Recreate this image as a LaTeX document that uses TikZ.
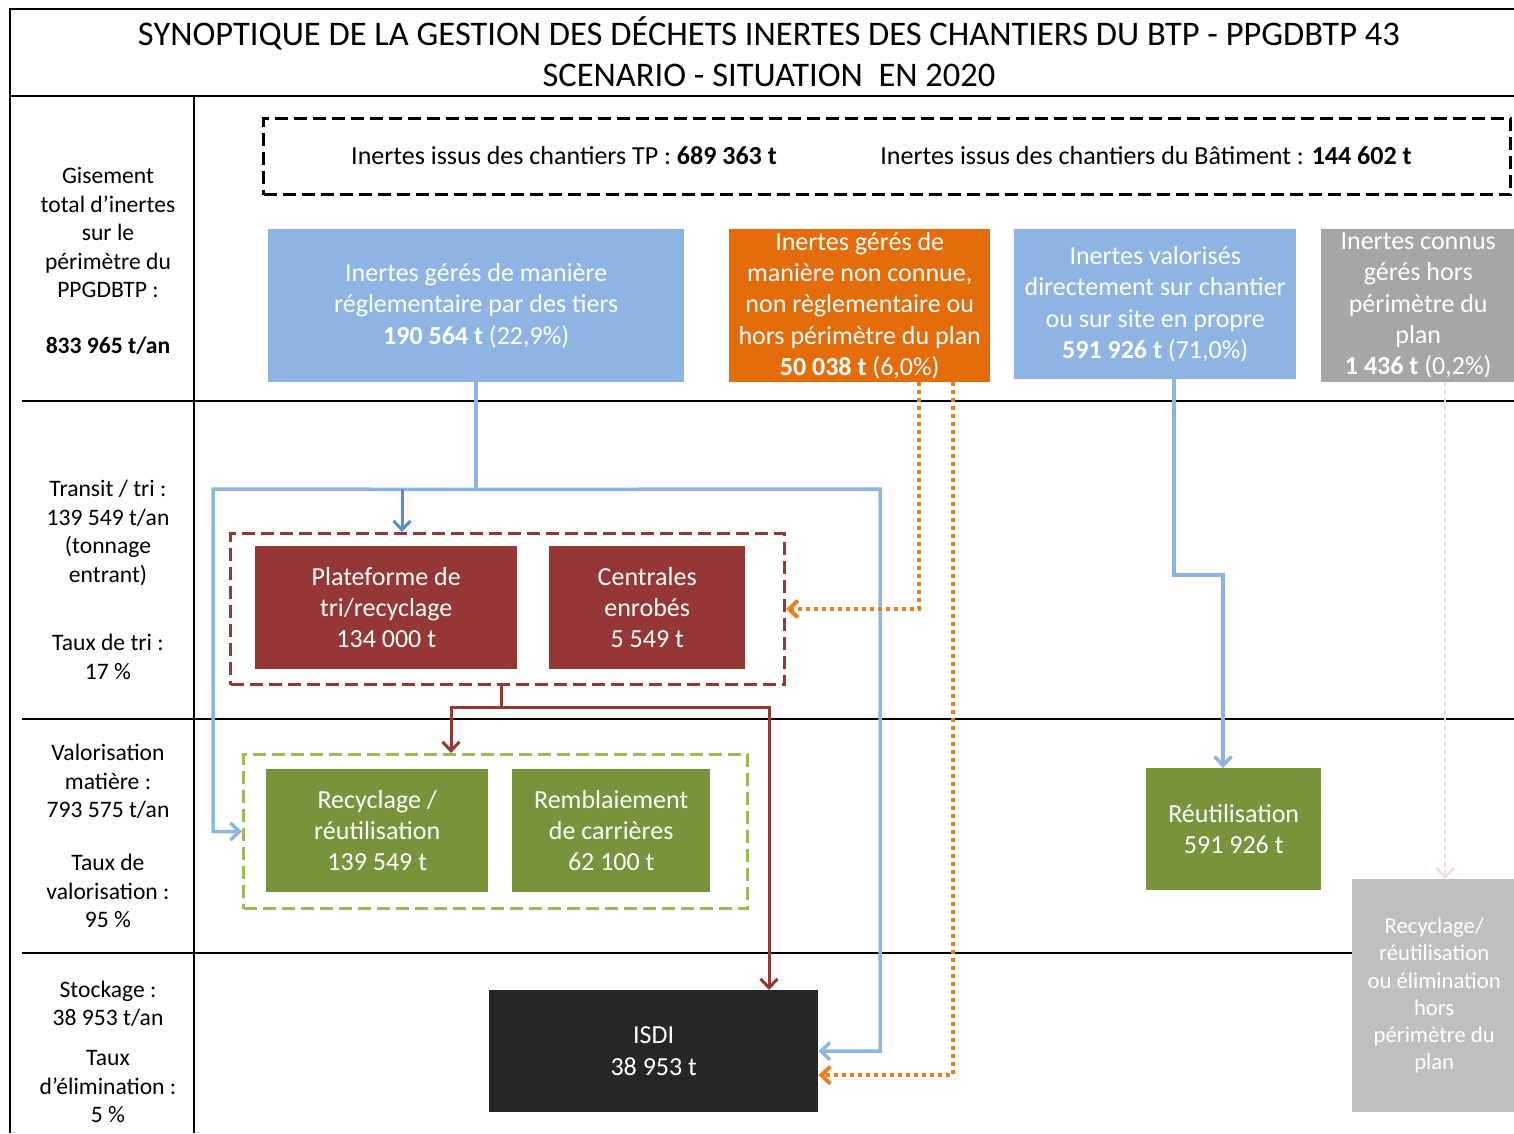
\documentclass[tikz,border=0pt]{standalone}
\usepackage{fontspec}
\setmainfont{Carlito}
\usetikzlibrary{arrows.meta}
\usetikzlibrary{positioning}
\usetikzlibrary{calc}

\definecolor{cielbleu}{HTML}{8EB4E3}
\definecolor{bleufonce}{HTML}{558ED5}
\definecolor{orangeplan}{HTML}{E46C0A}
\definecolor{orangeflux}{HTML}{F07D1A}
\definecolor{grisplan}{HTML}{A6A6A6}
\definecolor{grisclair}{HTML}{BFBFBF}
\definecolor{rougebrique}{HTML}{953735}
\definecolor{vertolive}{HTML}{77933C}
\definecolor{vertclair}{HTML}{9BBB59}
\definecolor{noirisdi}{HTML}{262626}
\definecolor{roseflux}{HTML}{F2DCDB}

\newcommand{\titrefont}{\fontsize{34.5}{41}\selectfont}
\newcommand{\boxfont}{\fontsize{26}{31.3}\selectfont}
\newcommand{\petitfont}{\fontsize{22.7}{27.2}\selectfont}
\newcommand{\labfont}{\fontsize{23.6}{28.5}\selectfont}

\begin{document}
\begin{tikzpicture}[x=1pt,y=-1pt,
    cadre/.style={line width=2.5pt,black},
    bloc/.style={rectangle,inner sep=0pt,anchor=north west,text=white,align=center,font=\boxfont},
    groupe/.style={rectangle,inner sep=0pt,anchor=north west,line width=3pt,dash pattern=on 13pt off 6pt},
    lab/.style={align=center,font=\labfont,inner sep=0pt},
    fleche/.style={-{Straight Barb[length=9pt,width=17pt]}},
    flotbleu/.style={line width=3.5pt,cielbleu},
    flotrouge/.style={line width=3pt,rougebrique},
    flotorange/.style={line width=4pt,orangeflux,dash pattern=on 4pt off 4pt}]
  \useasboundingbox (0,0) rectangle (1514,1133);

  % grille du tableau
  \draw[cadre] (10,1133) -- (10,9) -- (1514,9);
  \draw[cadre] (10,96) -- (1514,96);
  \draw[cadre] (194,96) -- (194,1133);
  \draw[cadre] (22,401) -- (1514,401);
  \draw[cadre] (22,719) -- (1514,719);
  \draw[cadre] (22,953) -- (1352,953);

  \node[font=\titrefont,align=center,inner sep=0pt] (titre) at (769,51.5)
    {SYNOPTIQUE DE LA GESTION DES DÉCHETS INERTES DES CHANTIERS DU BTP - PPGDBTP 43\\SCENARIO - SITUATION\ \ EN 2020};

  % colonne de gauche
  \node[lab] (lgis) at (108,232.5) {Gisement\\total d'inertes\\sur le\\périmètre du\\PPGDBTP :};
  \node[lab] (lgist) at (108,346) {\textbf{833 965 t/an}};
  \node[lab] (ltri) at (108,533) {Transit / tri :\\139 549 t/an\\(tonnage\\entrant)};
  \node[lab] (ltaux) at (108,657) {Taux de tri :\\17 \%};
  \node[lab] (lvalo) at (108,781.5) {Valorisation\\matière :\\793 575 t/an};
  \node[lab] (ltvalo) at (108,891) {Taux de\\valorisation :\\95 \%};
  \node[lab] (lstock) at (108,1004) {Stockage :\\38 953 t/an};
  \node[lab] (lelim) at (108,1087) {Taux\\d'élimination :\\5 \%};

  % gisement
  \node[groupe,black,draw,minimum width=1247,minimum height=76] (gisement) at (262,117) {};
  \node[font=\fontsize{26}{30}\selectfont] (tp) at (564,156) {Inertes issus des chantiers TP : \textbf{689 363 t}};
  \node[font=\fontsize{26}{30}\selectfont] (bat) at (1146,156) {Inertes issus des chantiers du Bâtiment : \textbf{144 602 t}};

  % modes de gestion
  \node[bloc,fill=cielbleu,minimum width=416,minimum height=153] (tiers) at (268,229)
    {Inertes gérés de manière\\réglementaire par des tiers\\\textbf{190 564 t} (22,9\%)};
  \node[bloc,fill=orangeplan,minimum width=261,minimum height=153] (inconnu) at (729,229)
    {Inertes gérés de\\manière non connue,\\non règlementaire ou\\hors périmètre du plan\\\textbf{50 038 t} (6,0\%)};
  \node[bloc,fill=cielbleu,minimum width=282,minimum height=150] (directs) at (1014,229)
    {Inertes valorisés\\directement sur chantier\\ou sur site en propre\\\textbf{591 926 t} (71,0\%)};
  \node[bloc,fill=grisplan,minimum width=194,minimum height=153] (horsplan) at (1321,229)
    {Inertes connus\\gérés hors\\périmètre du\\plan\\\textbf{1 436 t} (0,2\%)};

  % transit / tri
  \node[groupe,draw=rougebrique,minimum width=554,minimum height=151] (grptri) at (229,532) {};
  \node[bloc,fill=rougebrique,minimum width=262,minimum height=123] (plateforme) at (255,546)
    {Plateforme de\\tri/recyclage\\134 000 t};
  \node[bloc,fill=rougebrique,minimum width=196,minimum height=123] (centrales) at (549,546)
    {Centrales\\enrobés\\5 549 t};

  % valorisation
  \node[groupe,draw=vertclair,minimum width=504,minimum height=154] (grpvalo) at (242,753) {};
  \node[bloc,fill=vertolive,minimum width=222,minimum height=123] (recyclage) at (266,769)
    {Recyclage /\\réutilisation\\139 549 t};
  \node[bloc,fill=vertolive,minimum width=198,minimum height=123] (remblai) at (512,769)
    {Remblaiement\\de carrières\\62 100 t};
  \node[bloc,fill=vertolive,minimum width=175,minimum height=122] (reutil) at (1146,768)
    {Réutilisation\\591 926 t};

  % stockage
  \node[bloc,fill=noirisdi,minimum width=329,minimum height=122] (isdi) at (489,990)
    {ISDI\\38 953 t};
  \node[bloc,fill=grisclair,font=\petitfont,minimum width=164,minimum height=233] (horsplan2) at (1352,879)
    {Recyclage/\\réutilisation\\ou élimination\\hors\\périmètre du\\plan};

  % flux
  \coordinate (jt) at (402,489);
  \coordinate (jr) at (501,707);
  \coordinate (jrv) at (451,707);
  \coordinate (jri) at (769,707);
  \coordinate (o1) at (919,382);
  \coordinate (o2) at (953,382);
  \coordinate (b1) at (1174,379);
  \coordinate (b2) at (1223,575);
  \coordinate (p1) at (1445,382);

  \draw[flotbleu] (tiers.south) -- ++(0,107) coordinate (jb);
  \draw[flotbleu,fleche] (jb) -- (213,489) |- (grpvalo.west);
  \draw[flotbleu,fleche] (jb) -- (880,489) |- (isdi.east);
  \draw[line width=3pt,bleufonce,fleche] (jt) -- (jt |- grptri.north);

  \draw[flotrouge] (grptri.south -| jr) -- (jr);
  \draw[flotrouge,fleche] (jr) -- (jrv) -- (jrv |- grpvalo.north);
  \draw[flotrouge,fleche] (jr) -- (jri) -- (jri |- isdi.north);

  \draw[flotorange,fleche] (o1) |- (grptri.east);
  \draw[flotorange,fleche] (o2) |- ([yshift=-24pt]isdi.east);

  \draw[flotbleu,fleche] (b1) |- (b2) -- (b2 |- reutil.north);
  \draw[line width=2.5pt,roseflux,dash pattern=on 5pt off 3pt,fleche] (p1) -- (p1 |- horsplan2.north);
\end{tikzpicture}
\end{document}
